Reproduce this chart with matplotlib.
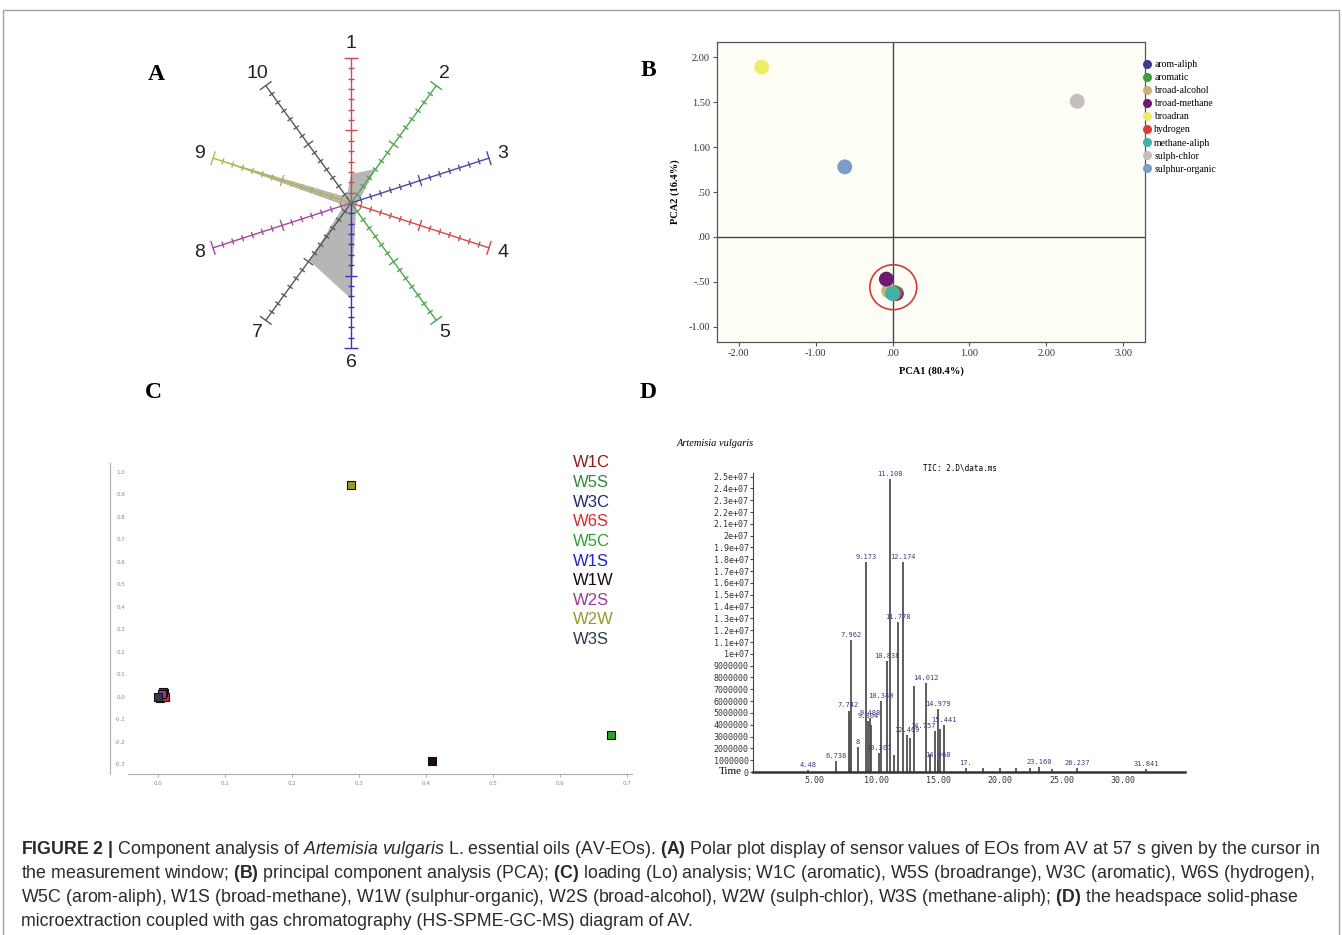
import numpy as np
import matplotlib
matplotlib.use('Agg')
import matplotlib.pyplot as plt
from matplotlib import font_manager
from matplotlib.collections import LineCollection
from matplotlib.lines import Line2D
from matplotlib.patches import Ellipse, Rectangle

W, H = 1342, 935

# ---- panel A: polar sensor plot ----
spoke_names = ['1', '2', '3', '4', '5', '6', '7', '8', '9', '10']
sensor_vals = [0.20, 0.29, 0.06, 0.04, 0.06, 0.66, 0.49, 0.05, 1.00, 0.05]
spoke_colors = ['#d24a4a', '#4aa84a', '#4a4aa0', '#d24a4a', '#4aa84a',
                '#3434c0', '#585858', '#a448a4', '#b4b44a', '#585858']

# ---- panel B: PCA ----
pca_groups = ['arom-aliph', 'aromatic', 'broad-alcohol', 'broad-methane', 'broadran',
              'hydrogen', 'methane-aliph', 'sulph-chlor', 'sulphur-organic']
pca1 = [0.05, 0.03, -0.05, -0.08, -1.70, 0.02, 0.00, 2.40, -0.62]
pca2 = [-0.63, -0.62, -0.60, -0.47, 1.89, -0.63, -0.63, 1.51, 0.78]
pca_colors = ['#3c3c8c', '#3aa03a', '#c9b27c', '#6e1a6e', '#eded6a',
              '#e03a3a', '#3fb3a8', '#c4bebe', '#7c9cc8']
pca_xticks = [-2, -1, 0, 1, 2, 3]
pca_xlabels = ['-2.00', '-1.00', '.00', '1.00', '2.00', '3.00']
pca_yticks = [2, 1.5, 1, 0.5, 0, -0.5, -1]
pca_ylabels = ['2.00', '1.50', '1.00', '.50', '.00', '-.50', '-1.00']

# ---- panel C: loading plot ----
sensors = ['W1C', 'W5S', 'W3C', 'W6S', 'W5C', 'W1S', 'W1W', 'W2S', 'W2W', 'W3S']
load_x = [0.005, 0.002, 0.008, 0.010, 0.676, 0.007, 0.409, 0.006, 0.288, 0.000]
load_y = [0.005, -0.005, 0.015, 0.000, -0.170, 0.020, -0.286, 0.010, 0.940, 0.000]
sensor_colors = ['#8b1c1c', '#2e8b3a', '#1e2a6e', '#d82a2a', '#2ea02e',
                 '#2222cc', '#1a0a1a', '#9a3a9a', '#9a9a22', '#2a3c4c']

# ---- panel D: GC-MS chromatogram ----
gc_time = [4.48, 6.738, 7.742, 7.85, 7.962, 8.488, 9.173, 9.304, 9.488, 9.6,
           10.207, 10.340, 10.838, 11.108, 11.45, 11.778, 12.174, 12.469, 12.75,
           13.045, 14.012, 14.35, 14.757, 14.968, 14.979, 15.15, 15.441, 17.25,
           18.6, 20.05, 21.3, 22.45, 23.160, 24.2, 26.237, 31.841]
gc_height = [0.15, 0.9, 5.2, 4.4, 11.2, 2.1, 17.8, 4.3, 4.6, 4.0,
             1.6, 6.0, 9.4, 24.8, 1.4, 12.7, 17.8, 3.1, 2.9,
             7.3, 7.5, 1.5, 3.5, 1.0, 5.3, 3.6, 4.0, 0.3,
             0.35, 0.3, 0.35, 0.3, 0.45, 0.25, 0.3, 0.25]  # x 1e6
gc_label = ['4.48', '6.738', '7.742', '', '7.962', '8', '9.173', '9.304', '9.488', '',
            '10.207', '10.340', '10.838', '11.108', '', '11.778', '12.174', '12.469', '',
            '', '14.012', '', '14.757', '14.968', '14.979', '', '15.441', '17.',
            '', '', '', '', '23.160', '', '26.237', '31.841']
gc_xticks = [5, 10, 15, 20, 25, 30]
gc_yticks = list(range(1000000, 26000000, 1000000))

caption = [
    r"$\mathbf{FIGURE\ 2\ |}$ Component analysis of $\mathit{Artemisia\ vulgaris}$ L. essential oils (AV-EOs). "
    r"$\mathbf{(A)}$ Polar plot display of sensor values of EOs from AV at 57 s given by the cursor in",
    r"the measurement window; $\mathbf{(B)}$ principal component analysis (PCA); $\mathbf{(C)}$ loading (Lo) "
    r"analysis; W1C (aromatic), W5S (broadrange), W3C (aromatic), W6S (hydrogen),",
    r"W5C (arom-aliph), W1S (broad-methane), W1W (sulphur-organic), W2S (broad-alcohol), W2W (sulph-chlor), "
    r"W3S (methane-aliph); $\mathbf{(D)}$ the headspace solid-phase",
    "microextraction coupled with gas chromatography (HS-SPME-GC-MS) diagram of AV.",
]


def has_font(name):
    try:
        font_manager.findfont(name, fallback_to_default=False)
        return True
    except ValueError:
        return False


cap_font = 'Liberation Sans Narrow' if has_font('Liberation Sans Narrow') else 'Liberation Sans'
cap_size = 15.3 if cap_font.endswith('Narrow') else 12.75
plt.rcParams['mathtext.fontset'] = 'custom'
plt.rcParams['mathtext.rm'] = cap_font
plt.rcParams['mathtext.bf'] = cap_font + ':bold'
plt.rcParams['mathtext.it'] = cap_font + ':italic'

SERIF = 'Liberation Serif'
MONO = 'DejaVu Sans Mono'


def box(l, t, r, b):
    return [l / W, 1 - b / H, (r - l) / W, (b - t) / H]


fig = plt.figure(figsize=(W / 100, H / 100), dpi=100)
fig.add_artist(Rectangle((3 / W, -0.01), 1336 / W, 1 - 10 / H + 0.01, transform=fig.transFigure,
                         fill=False, edgecolor='#a0a0a0', lw=1))

for letter, x, y in [('A', 156, 74), ('B', 648, 71), ('C', 153, 392), ('D', 648, 392)]:
    fig.text(x / W, 1 - y / H, letter, family=SERIF, weight='bold', size=17, ha='center', va='center')

# ---------------- A ----------------
ax = fig.add_axes(box(191, 43, 511, 363))
ax.set_xlim(-1.103, 1.103)
ax.set_ylim(-1.103, 1.103)
ax.axis('off')
ang = np.deg2rad(90 - 36 * np.arange(len(spoke_names)))
vals = np.array(sensor_vals)
ax.fill(vals * np.cos(ang), vals * np.sin(ang), color='#a9a9a9', alpha=0.85, lw=0, zorder=1)
for a, c, name in zip(ang, spoke_colors, spoke_names):
    ca, sa = np.cos(a), np.sin(a)
    ax.plot([0, ca], [0, sa], color=c, lw=1, zorder=2)
    segs = []
    for k in range(1, 15):
        r = k / 14
        h = 0.05 if k == 14 else (0.04 if k == 7 else 0.022)
        segs.append([(r * ca + h * sa, r * sa - h * ca), (r * ca - h * sa, r * sa + h * ca)])
    ax.add_collection(LineCollection(segs, colors=c, lw=1, zorder=2))
    ax.text(1.1 * ca, 1.1 * sa, name, ha='center', va='center', size=14,
            family='Liberation Sans', color='#222222')

# ---------------- B ----------------
ax = fig.add_axes(box(717, 42, 1145, 342))
ax.set_facecolor('#fefef6')
ax.set_xlim(-2.28, 3.28)
ax.set_ylim(-1.17, 2.17)
ax.axvline(0, color='#444444', lw=1, zorder=1)
ax.axhline(0, color='#444444', lw=1, zorder=1)
for x, y, c, g in zip(pca1, pca2, pca_colors, pca_groups):
    ax.scatter(x, y, s=115, color=c, edgecolor='none', zorder=3, label=g)
ax.add_patch(Ellipse((0.01, -0.56), 0.61, 0.5, fill=False, edgecolor='#d23c3c', lw=1.2, zorder=4))
ax.set_xticks(pca_xticks, pca_xlabels)
ax.set_yticks(pca_yticks, pca_ylabels)
ax.tick_params(length=3, width=0.8, color='#555555', labelsize=7.5, pad=2, labelcolor='#333333')
for lab in ax.get_xticklabels() + ax.get_yticklabels():
    lab.set_family(SERIF)
for sp in ax.spines.values():
    sp.set_color('#555555')
    sp.set_linewidth(0.9)
ax.set_xlabel('PCA1 (80.4%)', family=SERIF, weight='bold', size=7.5, labelpad=6)
ax.set_ylabel('PCA2 (16.4%)', family=SERIF, weight='bold', size=7.5, labelpad=6)
handles = [Line2D([], [], ls='none', marker='o', ms=6.5, mfc=c, mec='none') for c in pca_colors]
ax.legend(handles, pca_groups, loc='upper left', bbox_to_anchor=(1143 / W, 1 - 60 / H),
          bbox_transform=fig.transFigure, frameon=False, borderpad=0, borderaxespad=0,
          handlelength=0.9, handletextpad=0.25, labelspacing=0.42,
          prop={'family': SERIF, 'size': 7})

# ---------------- C ----------------
ax = fig.add_axes(box(128, 463, 632, 774))
ax.set_xlim(-0.045, 0.707)
ax.set_ylim(-0.344, 1.04)
for x, y, c in zip(load_x, load_y, sensor_colors):
    ax.scatter(x, y, marker='s', s=40, color=c, edgecolor='#111111', lw=0.8, zorder=3)
ax.set_xticks(np.arange(0, 0.71, 0.1))
ax.set_yticks(np.arange(-0.3, 1.01, 0.1))
ax.xaxis.set_major_formatter(matplotlib.ticker.FormatStrFormatter('%.1f'))
ax.yaxis.set_major_formatter(matplotlib.ticker.FormatStrFormatter('%.1f'))
ax.spines[['top', 'right']].set_visible(False)
ax.spines['left'].set_position(('outward', 13))
for sp in ('left', 'bottom'):
    ax.spines[sp].set_color('#b0b0b0')
ax.tick_params(axis='x', length=2, color='#b0b0b0', labelsize=4, labelcolor='#888888', pad=3)
ax.tick_params(axis='y', direction='in', length=0, labelsize=4, labelcolor='#888888', pad=-11)
for i, (name, c) in enumerate(zip(sensors, sensor_colors)):
    fig.text(573 / W, 1 - (463 + i * 19.6) / H, name, color=c, size=12,
             family='Liberation Sans', ha='left', va='center')

# ---------------- D ----------------
ax = fig.add_axes(box(753, 473, 1185, 772))
ax.set_xlim(0, 35)
ax.set_ylim(0, 25.3e6)
t = np.array(gc_time)
h = np.array(gc_height) * 1e6
ax.vlines(t, 0, h, color='#505050', lw=1.3, zorder=2)
for ti, hi, lab in zip(t, h, gc_label):
    if lab:
        # labels of crowded neighbouring peaks pushed to the left
        dx = -9 if lab == '14.757' else 0
        ax.annotate(lab, (ti, hi), xytext=(dx, 1.5), textcoords='offset points', ha='center',
                    va='bottom', size=5, family=MONO, color='#3a3a80')
ax.spines[['top', 'right']].set_visible(False)
ax.spines['left'].set_color('#444444')
ax.spines['bottom'].set_color('#333333')
ax.spines['bottom'].set_linewidth(1.8)
ax.set_xticks(gc_xticks, ['%.2f' % v for v in gc_xticks])
ylabels = ['%g' % v if v >= 1e7 else str(int(v)) for v in gc_yticks]
ax.set_yticks([0] + gc_yticks, ['0'] + ylabels)
ax.tick_params(axis='y', length=2, pad=1, labelsize=6, color='#444444', labelcolor='#333333')
ax.tick_params(axis='x', length=0, pad=3, labelsize=6, labelcolor='#333333')
for lab in ax.get_xticklabels() + ax.get_yticklabels():
    lab.set_family(MONO)
ax.text(-0.025, 0, 'Time', transform=ax.transAxes, ha='right', va='center', family=SERIF, size=8)
fig.text(677 / W, 1 - 444 / H, 'Artemisia vulgaris', family=SERIF, style='italic', size=7.5,
         ha='left', va='center')
fig.text(923 / W, 1 - 468 / H, r'TIC: 2.D\data.ms', family=MONO, size=5.5, ha='left', va='center')

# ---------------- caption ----------------
for i, line in enumerate(caption):
    fig.text(21 / W, 1 - (849 + 24 * i) / H, line, family=cap_font, size=cap_size,
             color='#2a2a2a', ha='left', va='center')

fig.savefig('out.png', dpi=100)
